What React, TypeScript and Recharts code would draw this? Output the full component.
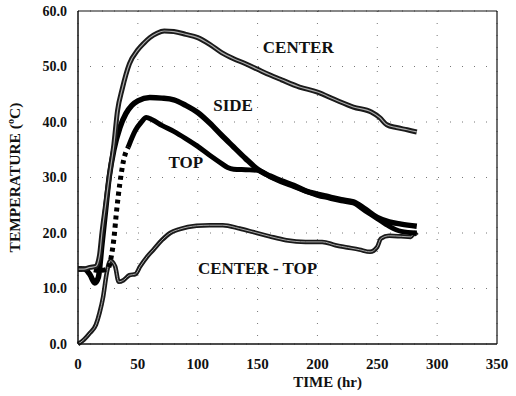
import { LineChart, Line, XAxis, YAxis, CartesianGrid, ReferenceLine, ReferenceDot, Label } from "recharts";

const xTicks = [0, 50, 100, 150, 200, 250, 300, 350];
const yTicks = [0, 10, 20, 30, 40, 50, 60];

const centerTime = [0, 5, 10, 15, 18, 20, 23, 26, 30, 33, 37, 43, 50, 55, 60, 66, 72, 80, 90, 100, 110, 120, 130, 140, 150, 160, 170, 185, 200, 215, 230, 245, 252, 258, 266, 275, 283];
const centerTemp = [13.5, 13.5, 13.8, 14, 16, 20, 25, 30, 36, 42, 46, 50.5, 53, 54.2, 55.2, 56, 56.4, 56.3, 55.8, 55.2, 54, 52.5, 51.4, 50.5, 49.5, 48.5, 47.6, 46.3, 45.4, 44, 42.7, 41.8, 40.8, 39.5, 39, 38.6, 38.2];

const sideTime = [0, 5, 10, 14, 17, 20, 23, 26, 30, 35, 40, 45, 50, 60, 70, 80, 90, 100, 110, 120, 130, 140, 150, 160, 170, 180, 190, 200, 210, 220, 230, 240, 250, 260, 270, 283];
const sideTemp = [13.5, 13.5, 12.5, 11, 12, 18, 24, 30, 35, 39, 41.5, 43, 43.8, 44.4, 44.3, 44, 43, 41.7, 39.8, 37.6, 35.5, 33.4, 31.5, 30.3, 29.4, 28.6, 27.6, 27, 26.5, 26, 25.6, 24.3, 22.8, 22, 21.6, 21.2];

const topTime = [0, 5, 10, 15, 20, 25, 28, 30, 32, 35, 38, 42, 48, 53, 57, 62, 70, 80, 90, 100, 110, 120, 125, 130, 140, 150, 160, 170, 180, 190, 200, 210, 220, 230, 240, 250, 260, 270, 283];
const topTemp = [13.5, 13.5, 13.5, 13.3, 13.3, 13.6, 16, 19, 23.5, 29, 33, 35.5, 38.5, 40, 40.8, 40.4, 39.4, 38.3, 37, 35.6, 34, 32.5, 31.8, 31.5, 31.4, 31.3, 30.2, 29.2, 28.4, 27.6, 26.8, 26.3, 25.8, 25.4, 24, 22.6, 21.2, 20.3, 20];

const diffTime = [0, 5, 10, 15, 18, 21, 24, 27, 31, 34, 38, 43, 48, 52, 58, 63, 70, 77, 85, 99, 110, 121, 135, 146, 160, 174, 190, 204, 215, 225, 235, 244, 250, 253, 260, 270, 278, 281, 283];
const diffTemp = [0, 0.8, 2, 3.5, 5.6, 8.5, 12.8, 15, 14, 11.2, 11.5, 12.4, 12.6, 14, 15.8, 17, 18.7, 20, 20.7, 21.3, 21.4, 21.4, 20.8, 20.2, 19.4, 18.7, 18.4, 18.4, 17.8, 17.4, 17, 16.6, 17.5, 19, 19.5, 19.4, 19.3, 20, 19.6];

const toPoints = (ts: number[], vs: number[]) => ts.map((t, i) => ({ time: t, temp: vs[i] }));

const centerData = toPoints(centerTime, centerTemp);
const sideData = toPoints(sideTime, sideTemp);
const topData = toPoints(topTime, topTemp);
const topRise = topData.filter((d) => d.time <= 42);
const topMain = topData.filter((d) => d.time >= 42);
const diffData = toPoints(diffTime, diffTemp);

const serif = "Liberation Serif";
const ink = "#111";
const textStyle = { fontFamily: serif, fontWeight: 700 };

export default function App() {
  return (
    <div style={{ position: "absolute", left: 0, top: 0, width: 516, height: 396, background: "#fff", fontFamily: serif }}>
      <LineChart width={516} height={396} margin={{ top: 11, right: 19, bottom: 0, left: 0 }} style={{ fontFamily: serif }}>
        <CartesianGrid stroke="#777" strokeDasharray="1 11" />
        <XAxis
          dataKey="time"
          type="number"
          domain={[0, 350]}
          ticks={xTicks}
          height={52}
          tickLine={false}
          axisLine={{ stroke: ink, strokeWidth: 1.5 }}
          tick={{ fill: ink, fontSize: 15, style: textStyle }}
          tickMargin={8}
        >
          <Label value="TIME (hr)" position="insideBottom" offset={9} dx={40} fill={ink} fontSize={15} style={textStyle} />
        </XAxis>
        <YAxis
          type="number"
          domain={[0, 60]}
          ticks={yTicks}
          width={78}
          tickLine={false}
          axisLine={{ stroke: ink, strokeWidth: 1.5 }}
          tick={{ fill: ink, fontSize: 14, style: textStyle }}
          tickFormatter={(v: number) => v.toFixed(1)}
          tickMargin={5}
        >
          <Label
            value="TEMPERATURE (ºC)"
            position="insideLeft"
            angle={-90}
            offset={14}
            fill={ink}
            fontSize={15.5}
            style={{ ...textStyle, textAnchor: "middle" }}
          />
        </YAxis>
        <ReferenceLine y={60} stroke={ink} strokeWidth={1.2} />
        <ReferenceLine x={350} stroke={ink} strokeWidth={1.2} />

        <Line data={diffData} dataKey="temp" type="monotone" stroke="#1a1a1a" strokeWidth={4.5} dot={false} isAnimationActive={false} />
        <Line data={diffData} dataKey="temp" type="monotone" stroke="#aaa" strokeWidth={1} dot={false} isAnimationActive={false} />
        <Line data={sideData} dataKey="temp" type="monotone" stroke="#000" strokeWidth={5.5} dot={false} isAnimationActive={false} />
        <Line data={topRise} dataKey="temp" type="monotone" stroke="#000" strokeWidth={5} strokeDasharray="4 4" dot={false} isAnimationActive={false} />
        <Line data={topMain} dataKey="temp" type="monotone" stroke="#000" strokeWidth={5} dot={false} isAnimationActive={false} />
        <Line data={centerData} dataKey="temp" type="monotone" stroke="#1a1a1a" strokeWidth={5} dot={false} isAnimationActive={false} />
        <Line data={centerData} dataKey="temp" type="monotone" stroke="#aaa" strokeWidth={1.2} dot={false} isAnimationActive={false} />

        <ReferenceDot x={184} y={53.5} r={0} fill="none" stroke="none" ifOverflow="visible">
          <Label value="CENTER" position="center" fill={ink} fontSize={17} style={textStyle} />
        </ReferenceDot>
        <ReferenceDot x={129.5} y={43} r={0} fill="none" stroke="none" ifOverflow="visible">
          <Label value="SIDE" position="center" fill={ink} fontSize={17} style={textStyle} />
        </ReferenceDot>
        <ReferenceDot x={90} y={32.8} r={0} fill="none" stroke="none" ifOverflow="visible">
          <Label value="TOP" position="center" fill={ink} fontSize={17} style={textStyle} />
        </ReferenceDot>
        <ReferenceDot x={150} y={13.7} r={0} fill="none" stroke="none" ifOverflow="visible">
          <Label value="CENTER - TOP" position="center" fill={ink} fontSize={17} style={textStyle} />
        </ReferenceDot>
      </LineChart>
    </div>
  );
}
